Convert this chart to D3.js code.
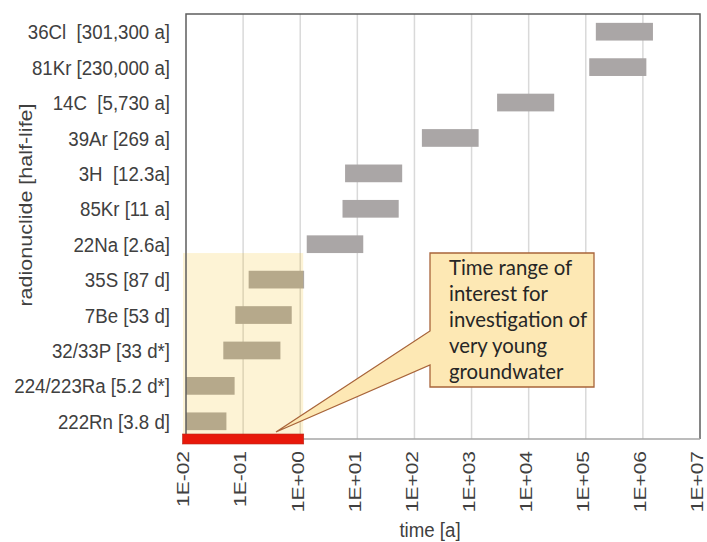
<!DOCTYPE html>
<html>
<head>
<meta charset="utf-8">
<script src="https://cdn.jsdelivr.net/npm/d3@7"></script>
<style>
  html, body { margin: 0; padding: 0; background: #fff; }
  svg { display: block; }
  text { white-space: pre; }
</style>
</head>
<body>
<div id="chart"></div>
<script>
// ---- data ----
const categories = [
  "36Cl  [301,300 a]",
  "81Kr [230,000 a]",
  "14C  [5,730 a]",
  "39Ar [269 a]",
  "3H  [12.3a]",
  "85Kr [11 a]",
  "22Na [2.6a]",
  "35S [87 d]",
  "7Be [53 d]",
  "32/33P [33 d*]",
  "224/223Ra [5.2 d*]",
  "222Rn [3.8 d]"
];
const rangeStart = [1.5e5, 1.15e5, 2800, 135, 6.1, 5.5, 1.3, 0.125, 0.073, 0.045, 0.01, 0.01];
const rangeEnd   = [1.5e6, 1.15e6, 28000, 1330, 61, 53, 12.7, 1.17, 0.71, 0.45, 0.071, 0.051];
const tickValues = [1e-2, 1e-1, 1e0, 1e1, 1e2, 1e3, 1e4, 1e5, 1e6, 1e7];
const tickLabels = ["1E-02","1E-01","1E+00","1E+01","1E+02","1E+03","1E+04","1E+05","1E+06","1E+07"];
const interestRange = [1e-2, 1e0];
const calloutLines = ["Time range of", "interest for", "investigation of", "very young", "groundwater"];
const xTitle = "time [a]";
const yTitle = "radionuclide [half-life]";

// ---- layout ----
const W = 707, H = 542;
const m = {left: 186, top: 14, right: 7, bottom: 103};
const x0 = m.left, x1 = W - m.right, y0 = m.top, y1 = H - m.bottom;
const SX = 0.89; // horizontal text compression

const svg = d3.select("#chart").append("svg").attr("width", W).attr("height", H);

const x = d3.scaleLog().domain([1e-2, 1e7]).range([x0, x1]);
const y = d3.scaleBand().domain(categories).range([y0, y1]).paddingInner(0.5).paddingOuter(0.25);

const textColor = "#404040";
const labelFont = "'Liberation Sans', Arial, sans-serif";

// gridlines
svg.append("g").selectAll("line").data(tickValues.slice(1, -1)).join("line")
  .attr("x1", d => x(d)).attr("x2", d => x(d))
  .attr("y1", y0).attr("y2", y1)
  .attr("stroke", "#d9d9d9").attr("stroke-width", 1.5);

// bars
const rows = categories.map((c, i) => ({c, s: rangeStart[i], e: rangeEnd[i]}));
svg.append("g").selectAll("rect").data(rows).join("rect")
  .attr("x", d => x(d.s)).attr("width", d => x(d.e) - x(d.s))
  .attr("y", d => y(d.c)).attr("height", y.bandwidth())
  .attr("fill", "#aaa6a6");

// shaded interest region
const shadeTop = y("22Na [2.6a]") + y.bandwidth();
svg.append("rect")
  .attr("x", x(interestRange[0]) - 3).attr("width", x(interestRange[1]) - x(interestRange[0]) + 6)
  .attr("y", shadeTop).attr("height", y1 - shadeTop)
  .attr("fill", "#f3b606").attr("fill-opacity", 0.17);

// frame
const frame = svg.append("g").attr("fill", "none");
frame.append("path").attr("d", `M${x0},${y1}V${y0}H${x1}V${y1}`)
  .attr("stroke", "#5e5e5e").attr("stroke-width", 1.5);
frame.append("line").attr("x1", x0).attr("x2", x1).attr("y1", y1).attr("y2", y1)
  .attr("stroke", "#a6a6a6").attr("stroke-width", 1.5);

// red bar
svg.append("rect")
  .attr("x", x(interestRange[0]) - 3.5).attr("width", x(interestRange[1]) - x(interestRange[0]) + 7)
  .attr("y", y1 - 5).attr("height", 10)
  .attr("fill", "#e8180a").attr("stroke", "#b8281a").attr("stroke-width", 0.6);

// callout
const bx0 = 430, bx1 = 594, by0 = 253, by1 = 387;
const tip = [276, 432];
const c = svg.append("g");
c.append("path")
  .attr("d", `M${bx0},${by0}H${bx1}V${by1}H${bx0}V365L${tip[0]},${tip[1]}L${bx0},331Z`)
  .attr("fill", "#fde8b4").attr("stroke", "#a8643a").attr("stroke-width", 1.3)
  .attr("stroke-linejoin", "miter");
const ct = c.append("g").attr("transform", `translate(449,0) scale(0.97,1)`);
ct.selectAll("text").data(calloutLines).join("text")
  .attr("x", 0).attr("y", (d, i) => 275 + i * 26)
  .attr("font-family", "Lato, 'Open Sans', sans-serif").attr("font-size", 21)
  .attr("fill", "#262626").text(d => d);

// y labels
svg.append("g").selectAll("g").data(categories).join("g")
  .attr("transform", d => `translate(170,${y(d) + y.bandwidth() / 2}) scale(${SX},1)`)
  .append("text").attr("text-anchor", "end").attr("dy", "0.36em")
  .attr("font-family", labelFont).attr("font-size", 21).attr("fill", textColor)
  .text(d => d);

// x tick labels (rotated)
svg.append("g").selectAll("g").data(tickValues).join("g")
  .attr("transform", d => `translate(${x(d)},451) scale(0.8,1) rotate(-90)`)
  .append("text").attr("text-anchor", "end").attr("dy", "0.2em")
  .attr("font-family", labelFont).attr("font-size", 21).attr("fill", textColor)
  .text((d, i) => tickLabels[i]);

// axis titles
svg.append("g").attr("transform", `translate(430,537) scale(${SX},1)`)
  .append("text").attr("text-anchor", "middle")
  .attr("font-family", labelFont).attr("font-size", 21).attr("fill", textColor)
  .text(xTitle);
svg.append("g").attr("transform", `translate(25,205) scale(${SX},1) rotate(-90)`)
  .append("text").attr("text-anchor", "middle").attr("dy", "0.36em")
  .attr("font-family", labelFont).attr("font-size", 21.5).attr("fill", textColor)
  .text(yTitle);
</script>
</body>
</html>
